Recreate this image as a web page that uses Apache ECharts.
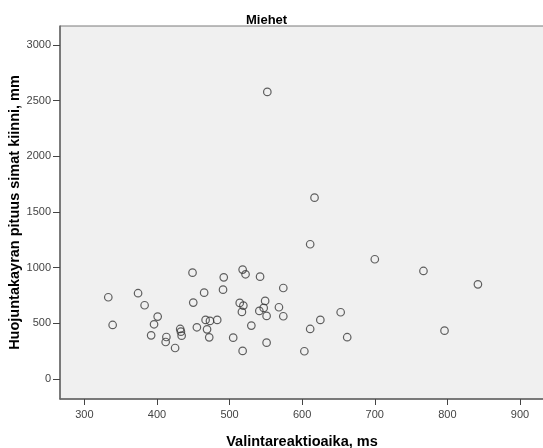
<!DOCTYPE html>
<html>
<head>
<meta charset="utf-8">
<script src="https://cdn.jsdelivr.net/npm/echarts@6/dist/echarts.min.js"></script>
<style>
    html, body {margin: 0; padding: 0; background: #fff;}
    #chart {width: 543px; height: 448px;}
</style>
</head>
<body>
<div id="chart"></div>
<script>
    // reaction time (ms) and sway path length (mm), one pair per subject
    var reactionTime = [
        552, 617, 611, 700, 767, 842, 653, 625, 611, 662, 796, 603,
        449, 518, 522, 492, 542, 574, 333, 374, 383, 465, 491, 450,
        514, 519, 517, 549, 547, 541, 568, 551, 574, 401, 396, 339,
        392, 413, 412, 425, 432, 433, 434, 467, 473, 483, 455, 469,
        472, 505, 530, 518, 551
    ];
    var swayLength = [
        2578, 1628, 1210, 1075, 970, 850, 599, 530, 449, 375, 434, 249,
        955, 982, 940, 913, 919, 817, 734, 770, 662, 775, 802, 686,
        683, 659, 602, 701, 638, 611, 644, 566, 563, 560, 491, 485,
        392, 377, 332, 278, 449, 425, 389, 530, 521, 530, 464, 446,
        374, 371, 479, 252, 326
    ];
    var xTicks = [300, 400, 500, 600, 700, 800, 900];
    var yTicks = [0, 500, 1000, 1500, 2000, 2500, 3000];

    var points = [];
    for (var i = 0; i < reactionTime.length; i++) {
        points.push([reactionTime[i], swayLength[i]]);
    }

    var font = '"Liberation Sans", Arial, sans-serif';

    function plain(v) {
        return String(v);
    }

    var scatterOption = {
        animation: false,
        title: {
            text: 'Miehet',
            left: 246,
            top: 14,
            padding: 0,
            textStyle: {fontFamily: font, fontSize: 13, fontWeight: 'bold', color: '#000'}
        },
        grid: {
            left: 60, right: -1, top: 26, bottom: 49,
            containLabel: false,
            outerBoundsMode: 'none',
            show: true,
            backgroundColor: '#f0f0f0',
            borderColor: '#7a7a7a',
            borderWidth: 1
        },
        xAxis: {
            type: 'value',
            min: 266.5,
            max: 933,
            name: 'Valintareaktioaika, ms',
            nameLocation: 'middle',
            nameGap: 35,
            nameTextStyle: {fontFamily: font, fontSize: 14.5, fontWeight: 'bold', color: '#000'},
            axisLine: {show: true, onZero: false, lineStyle: {color: '#666', width: 1.5}},
            axisTick: {show: true, length: 6, customValues: xTicks, lineStyle: {color: '#444'}},
            axisLabel: {customValues: xTicks, margin: 10, formatter: plain, fontFamily: font, fontSize: 11, color: '#444'},
            splitLine: {show: false}
        },
        yAxis: {
            type: 'value',
            min: -180,
            max: 3170,
            name: 'Huojuntakayran pituus simat kiinni, mm',
            nameLocation: 'middle',
            nameGap: 38,
            nameMoveOverlap: false,
            nameTextStyle: {fontFamily: font, fontSize: 14.5, fontWeight: 'bold', color: '#000'},
            axisLine: {show: true, onZero: false, lineStyle: {color: '#666', width: 1.5}},
            axisTick: {show: true, length: 7, customValues: yTicks, lineStyle: {color: '#444'}},
            axisLabel: {customValues: yTicks, margin: 9, formatter: plain, fontFamily: font, fontSize: 11, color: '#444'},
            splitLine: {show: false}
        },
        series: [
            {
                type: 'scatter',
                data: points,
                symbol: 'circle',
                symbolSize: 7.5,
                itemStyle: {color: 'rgba(0,0,0,0)', borderColor: '#3a3a3a', borderWidth: 1.2}
            }
        ]
    };

    var scatterChart = echarts.init(document.getElementById('chart'));
    scatterChart.setOption(scatterOption);
</script>
</body>
</html>
